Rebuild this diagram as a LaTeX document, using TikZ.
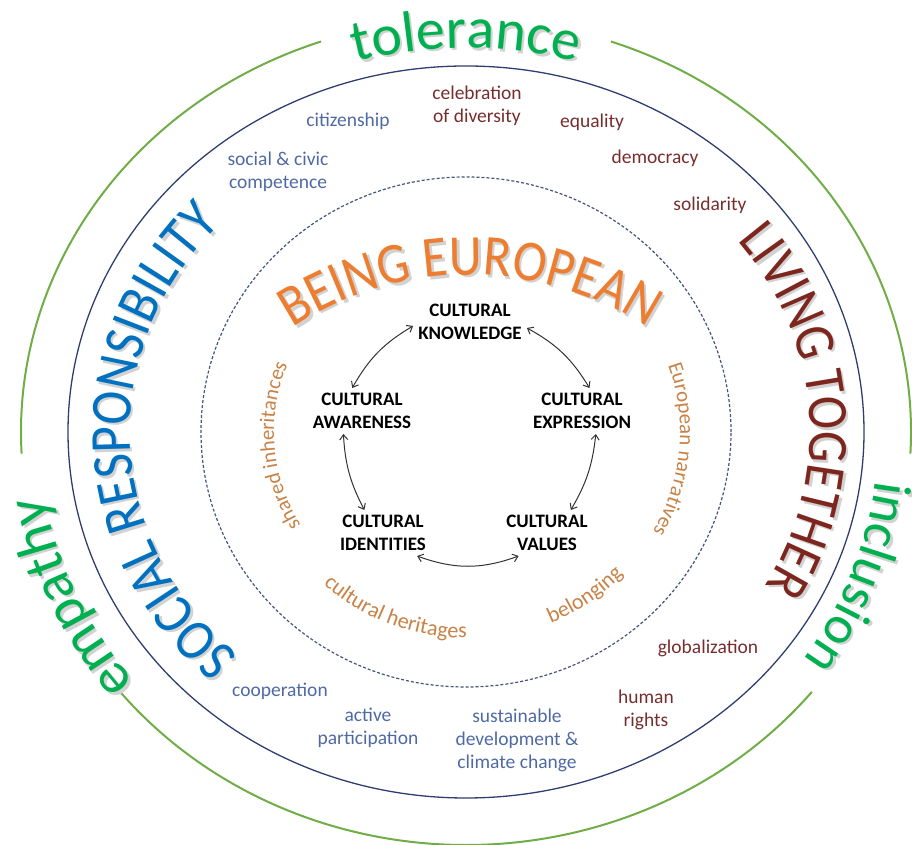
\documentclass[tikz,border=0pt]{standalone}
\usepackage{fontspec}
\setmainfont{Carlito}
\newfontfamily\archfont[FakeStretch=0.88]{Carlito}
\usepackage{tikz}
\usetikzlibrary{calc}
\usetikzlibrary{decorations.text}
\usetikzlibrary{arrows.meta}
\definecolor{ringgreen}{RGB}{112,173,71}
\definecolor{ringnavy}{RGB}{47,62,112}
\definecolor{dashnavy}{RGB}{68,84,122}
\definecolor{biggreen}{RGB}{0,176,80}
\definecolor{bigblue}{RGB}{0,112,192}
\definecolor{bigred}{RGB}{125,38,30}
\definecolor{bigorange}{RGB}{237,125,49}
\definecolor{orangelab}{RGB}{200,130,70}
\definecolor{bluelab}{RGB}{79,105,165}
\definecolor{redlab}{RGB}{120,45,45}
\definecolor{shadowgray}{RGB}{210,210,210}
\tikzset{
    arctext/.style n args={3}{decorate,decoration={text along path,text align=center,text color=#1,text={|#2|#3}}},
    cult/.style={font=\fontsize{19}{23}\selectfont\bfseries,align=center,inner sep=5pt},
    lab/.style={font=\fontsize{19.5}{23}\selectfont,align=center},
    link/.style={{Straight Barb[length=5pt,width=8pt]}-{Straight Barb[length=5pt,width=8pt]},line width=1pt,black!80},
    greenring/.style={ringgreen,line width=2pt},
    navyring/.style={ringnavy,line width=1.3pt},
    dashring/.style={dashnavy,line width=1.2pt,dash pattern=on 3pt off 2pt}
}

\begin{document}
\begin{tikzpicture}[x=1pt,y=1pt]
\useasboundingbox (0,0) rectangle (912,845);
\coordinate (c) at (466,413);
\coordinate (cs) at (468.5,410.5);
\coordinate (be) at (470,246);
\coordinate (bes) at (472.5,243.5);
\draw[navyring] (c) ellipse [x radius=398, y radius=366];
\draw[dashring] (c) ellipse [x radius=265, y radius=255];
\foreach \a/\b in {109/183, 219/321, -3/71}{
    \draw[greenring] (c) ++(\a:445 and 413) arc[start angle=\a, end angle=\b, x radius=445, y radius=413];
}
\path[arctext={shadowgray}{\fontsize{58}{58}\selectfont}{tolerance}] (cs) ++(125:416 and 384) arc[start angle=125, end angle=55, x radius=416, y radius=384];
\path[arctext={biggreen}{\fontsize{58}{58}\selectfont}{tolerance}] (c) ++(125:416 and 384) arc[start angle=125, end angle=55, x radius=416, y radius=384];
\path[arctext={shadowgray}{\fontsize{58}{58}\selectfont}{empathy}] (cs) ++(230:427 and 395) arc[start angle=230, end angle=178, x radius=427, y radius=395];
\path[arctext={biggreen}{\fontsize{58}{58}\selectfont}{empathy}] (c) ++(230:427 and 395) arc[start angle=230, end angle=178, x radius=427, y radius=395];
\path[arctext={shadowgray}{\fontsize{54}{54}\selectfont}{inclusion}] (cs) ++(4:413 and 395) arc[start angle=4, end angle=-46, x radius=413, y radius=395];
\path[arctext={biggreen}{\fontsize{54}{54}\selectfont}{inclusion}] (c) ++(4:413 and 395) arc[start angle=4, end angle=-46, x radius=413, y radius=395];
\path[arctext={shadowgray}{\archfont\fontsize{58}{58}\selectfont}{SOCIAL RESPONSIBILITY}] (cs) ++(252:336 and 304) arc[start angle=252, end angle=112, x radius=336, y radius=304];
\path[arctext={bigblue}{\archfont\fontsize{58}{58}\selectfont}{SOCIAL RESPONSIBILITY}] (c) ++(252:336 and 304) arc[start angle=252, end angle=112, x radius=336, y radius=304];
\path[arctext={shadowgray}{\archfont\fontsize{57}{57}\selectfont}{LIVING TOGETHER}] (cs) ++(60:344 and 312) arc[start angle=60, end angle=-52, x radius=344, y radius=312];
\path[arctext={bigred}{\archfont\fontsize{57}{57}\selectfont}{LIVING TOGETHER}] (c) ++(60:344 and 312) arc[start angle=60, end angle=-52, x radius=344, y radius=312];
\path[arctext={shadowgray}{\archfont\fontsize{58}{58}\selectfont}{BEING EUROPEAN}] (bes) ++(140:324) arc[start angle=140, end angle=40, radius=324];
\path[arctext={bigorange}{\archfont\fontsize{58}{58}\selectfont}{BEING EUROPEAN}] (be) ++(140:324) arc[start angle=140, end angle=40, radius=324];
\path[arctext={orangelab}{\fontsize{21}{21}\selectfont}{shared inheritances}] (c) ++(225:192 and 183) arc[start angle=225, end angle=144, x radius=192, y radius=183];
\path[arctext={orangelab}{\fontsize{21}{21}\selectfont}{European narratives}] (c) ++(30:214 and 204) arc[start angle=30, end angle=-40, x radius=214, y radius=204];
\path[arctext={orangelab}{\fontsize{22}{22}\selectfont}{cultural heritages}] (c) ++(222:213 and 206) arc[start angle=222, end angle=276, x radius=213, y radius=206];
\path[arctext={orangelab}{\fontsize{22}{22}\selectfont}{belonging}] (c) ++(287:216 and 208) arc[start angle=287, end angle=323, x radius=216, y radius=208];
\foreach \x/\y/\p/\col/\labeltext in {348/724/citz/bluelab/{citizenship}, 278/673/soc/bluelab/{social \& civic\\competence}, 477/739/celeb/redlab/{celebration\\of diversity}, 592/723/equal/redlab/{equality}, 655/687/demo/redlab/{democracy}, 710/640/solid/redlab/{solidarity}, 708/197/glob/redlab/{globalization}, 646/135/human/redlab/{human\\rights}, 280/154/coop/bluelab/{cooperation}, 368/117/active/bluelab/{active\\participation}, 517/105/sust/bluelab/{sustainable\\development \&\\climate change}}{
    \node[lab,text=\col] (\p) at (\x,\y) {\labeltext};
}
\foreach \x/\y/\p/\labeltext in {470/523/know/{CULTURAL\\KNOWLEDGE}, 362/434/aware/{CULTURAL\\AWARENESS}, 582/434/expr/{CULTURAL\\EXPRESSION}, 383/312/ident/{CULTURAL\\IDENTITIES}, 547/312/vals/{CULTURAL\\VALUES}}{
    \node[cult] (\p) at (\x,\y) {\labeltext};
}
\draw[link] (know.184) to[bend right=15] (aware.113);
\draw[link] (know.354) to[bend left=15] (expr.72);
\draw[link] (aware.231) to[bend right=12] (ident.129);
\draw[link] (expr.301) to[bend left=12] (vals.44);
\draw[link] (ident.326) to[bend right=20] (vals.219);
\end{tikzpicture}
\end{document}
